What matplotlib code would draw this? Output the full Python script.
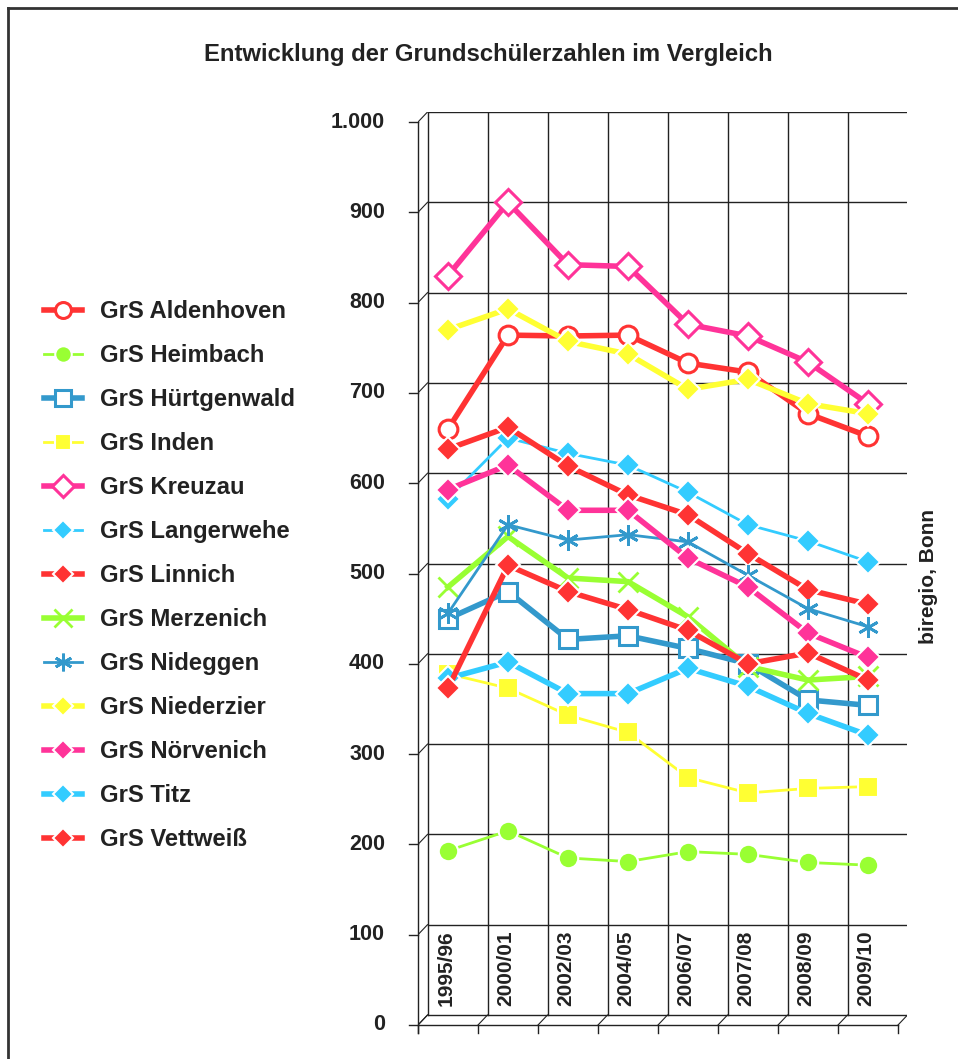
import matplotlib
matplotlib.use("Agg")
import matplotlib.pyplot as plt
from matplotlib.lines import Line2D

# ---- data ----
years = ['1995/96', '2000/01', '2002/03', '2004/05', '2006/07', '2007/08', '2008/09', '2009/10']

aldenhoven  = [660, 764, 763, 764, 733, 723, 677, 652]
heimbach    = [193, 215, 185, 181, 192, 189, 180, 177]
huertgenwald = [450, 480, 427, 431, 417, 400, 360, 354]
inden       = [389, 373, 343, 324, 274, 257, 262, 264]
kreuzau     = [830, 911, 842, 840, 776, 763, 734, 688]
langerwehe  = [583, 650, 633, 620, 590, 554, 536, 513]
linnich     = [638, 662, 619, 587, 565, 522, 482, 466]
merzenich   = [485, 541, 495, 491, 452, 397, 382, 386]
nideggen    = [456, 554, 537, 543, 535, 498, 461, 441]
niederzier  = [770, 793, 757, 743, 704, 715, 688, 677]
noervenich  = [593, 620, 570, 570, 517, 485, 434, 407]
titz        = [384, 402, 367, 367, 395, 375, 345, 321]
vettweiss   = [373, 509, 480, 460, 437, 400, 412, 382]

yticks = [0, 100, 200, 300, 400, 500, 600, 700, 800, 900, 1000]
ytick_labels = ['0', '100', '200', '300', '400', '500', '600', '700', '800', '900', '1.000']

red = '#FF3333'
green = '#99FF33'
blue = '#3399CC'
yellow = '#FFFF33'
pink = '#FF3399'
cyan = '#33CCFF'

asterisk = (6, 2, 0)

# name, values, color, marker, filled, thick line
series = [
    ('GrS Aldenhoven', aldenhoven, red, 'o', False, True),
    ('GrS Heimbach', heimbach, green, 'o', True, False),
    ('GrS Hürtgenwald', huertgenwald, blue, 's', False, True),
    ('GrS Inden', inden, yellow, 's', True, False),
    ('GrS Kreuzau', kreuzau, pink, 'D', False, True),
    ('GrS Langerwehe', langerwehe, cyan, 'D', True, False),
    ('GrS Linnich', linnich, red, 'D', True, True),
    ('GrS Merzenich', merzenich, green, 'x', True, True),
    ('GrS Nideggen', nideggen, blue, asterisk, True, False),
    ('GrS Niederzier', niederzier, yellow, 'D', True, True),
    ('GrS Nörvenich', noervenich, pink, 'D', True, True),
    ('GrS Titz', titz, cyan, 'D', True, True),
    ('GrS Vettweiß', vettweiss, red, 'D', True, True),
]

W, H = 958, 1059
fig = plt.figure(figsize=(W / 100, H / 100), dpi=100)
plt.rcParams['font.family'] = ['Liberation Sans', 'DejaVu Sans']
txt = '#222222'

# front plane: x 0..8 -> px 418..898, y 0..1000 -> px 1025..122
ax = fig.add_axes([418 / W, 1 - 1025 / H, 489 / W, 913 / H])
ax.set_xlim(0, 489 / 60)
ax.set_ylim(0, 913 / 0.903)
ax.axis('off')

dx = 9.5 / 60
dy = 10 / 0.903
n = len(years)
gc = '#222222'

# back wall grid
for i in range(n + 1):
    ax.plot([i + dx, i + dx], [dy, 1000 + dy], color=gc, lw=1.0, zorder=1)
for v, lab in zip(yticks, ytick_labels):
    ax.plot([dx, n + dx], [v + dy, v + dy], color=gc, lw=1.0, zorder=1)
    # side wall diagonals and ticks
    ax.plot([0, dx], [v, v + dy], color=gc, lw=0.8, zorder=1)
    ax.plot([-0.15, 0], [v, v], color=gc, lw=1.0, zorder=1, clip_on=False)
    ax.text(-0.55, v, lab, ha='right', va='center',
            fontsize=15.5, fontweight='bold', color=txt)
# front axis lines
ax.plot([0, 0], [-9, 1000], color=gc, lw=1.0, zorder=1, clip_on=False)
ax.plot([0, n], [0, 0], color=gc, lw=1.0, zorder=1, clip_on=False)
for i in range(n + 1):
    ax.plot([i, dx + i], [0, dy], color=gc, lw=0.8, zorder=1)
    ax.plot([i, i], [0, -9], color=gc, lw=1.0, zorder=1, clip_on=False)

# category labels inside the floor band
for i, lab in enumerate(years):
    ax.text(i + 0.47, 105, lab, rotation=90, ha='center', va='top',
            fontsize=15, fontweight='bold', color=txt)

xs = [i + 0.5 for i in range(n)]
handles = []
for k, (name, vals, col, mk, filled, thick) in enumerate(series):
    lw = 4 if thick else 2
    face = col if filled else 'white'
    edge = 'white' if filled else col
    ms, mew = 14, 1.5
    if mk == 'D':
        ms = 12.5
    if mk == 'x' or mk == asterisk:
        face, edge, mew, ms = col, col, 2, 15
    if not filled and mk in ('o', 's', 'D'):
        mew = 2.2
        ms = 13.5
    line, = ax.plot(xs, vals, color=col, lw=lw, marker=mk, markersize=ms,
                    markerfacecolor=face, markeredgecolor=edge, markeredgewidth=mew,
                    zorder=3 + k, label=name, clip_on=False)
    handles.append(line)

fig.legend(handles=handles, loc='upper left', bbox_to_anchor=(44 / W, 1 - 300 / H),
           frameon=False, handlelength=1.6, handletextpad=0.75,
           labelspacing=0.88, borderpad=0, borderaxespad=0, markerscale=0.85,
           prop={'weight': 'bold', 'size': 17.2})
for t in fig.legends[0].get_texts():
    t.set_color(txt)

fig.text(488 / W, 1 - 55 / H, 'Entwicklung der Grundschülerzahlen im Vergleich',
         ha='center', va='center', fontsize=17.2, fontweight='bold', color=txt)
fig.text(929 / W, 1 - 576 / H, 'biregio, Bonn', rotation=90, ha='center', va='center',
         fontsize=15, fontweight='bold', color=txt)

# outer frame (left and top edges visible)
fig.add_artist(Line2D([7.5 / W, 7.5 / W], [0, 1 - 8 / H], color='#333333', lw=2))
fig.add_artist(Line2D([7.5 / W, 1], [1 - 8 / H, 1 - 8 / H], color='#333333', lw=2))

fig.savefig('out.png', dpi=100)
